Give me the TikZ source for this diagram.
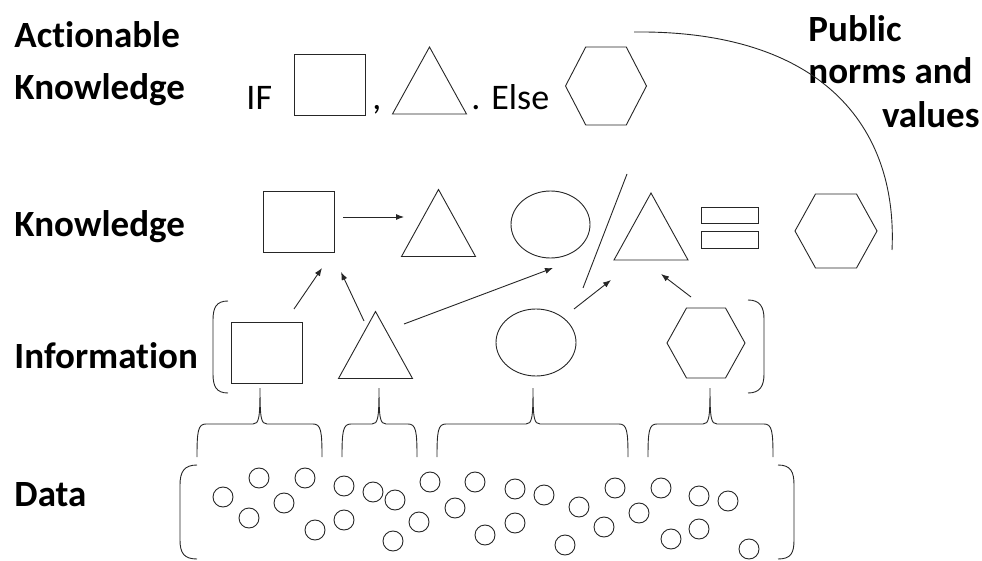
\documentclass[tikz,border=0pt]{standalone}
\usepackage{fontspec}
\setmainfont{Carlito}[Ligatures=NoCommon]
\usetikzlibrary{arrows.meta,shapes.geometric}

% curly brace opening downwards, tip up: left x, tip x, right x
\newcommand{\upbrace}[3]{%
  \draw (#1,457) .. controls (#1,431) and (#1+1,424) .. (#1+9,424) -- (#2-7,424)
        .. controls (#2-1,424) and (#2,418) .. (#2,388)
        .. controls (#2,418) and (#2+1,424) .. (#2+7,424) -- (#3-9,424)
        .. controls (#3-1,424) and (#3,431) .. (#3,457);}

\begin{document}
\begin{tikzpicture}[x=1pt,y=-1pt,line width=0.9pt,color=black!85,>={Latex[length=8pt,width=6pt]}]
\tikzset{
  lvl/.style={font=\fontsize{37}{44}\selectfont\bfseries, anchor=base west, inner sep=0pt, text=black},
  pub/.style={font=\fontsize{37}{44}\selectfont\bfseries, anchor=base west, inner sep=0pt, text=black},
  txt/.style={font=\fontsize{36}{42}\selectfont, anchor=base west, inner sep=0pt, text=black},
  box/.style={draw, rectangle, inner sep=0pt},
  oval/.style={draw, ellipse, inner sep=0pt, minimum width=79pt, minimum height=67pt},
  arr/.style={->, line width=0.9pt},
  pics/tri/.style={code={\draw (-37,33) -- (0,-34) -- (37,33) -- cycle;}},
  pics/hexa/.style args={#1/#2}{code={\draw (-#1,0) -- (-#1/2,-#2) -- (#1/2,-#2) -- (#1,0) -- (#1/2,#2) -- (-#1/2,#2) -- cycle;}}
}
\useasboundingbox (0,0) rectangle (982,561);

% level labels
\node[lvl] (act)  at (14,48)  {Actionable};
\node[lvl] (actk) at (14,100) {Knowledge};
\node[lvl] (know) at (14,237) {Knowledge};
\node[lvl] (info) at (14,368) {Information};
\node[lvl] (data) at (14,506) {Data};

% actionable knowledge
\node[txt] (if) at (246,110) {IF};
\node[box, minimum width=71pt, minimum height=61pt] (ts) at (329.5,84.5) {};
\node[txt] (comma) at (372,110) {,};
\pic (tt) at (429.5,81) {tri};
\node[txt] (else) at (471,110) {. Else};
\pic (th) at (606,86) {hexa=40.5/39};

% public norms and values
\node[pub] (pub1) at (808,42) {Public};
\node[pub] (pub2) at (808,84) {norms and};
\node[pub, anchor=base east] (pub3) at (980,128) {values};
\draw (634,32) .. controls (820,30) and (898,125) .. (892,250);

% knowledge
\node[box, minimum width=71pt, minimum height=61pt] (ks) at (298.5,221.5) {};
\pic (kt) at (438.5,223.5) {tri};
\node[oval] (ko) at (550.5,224.5) {};
\draw (627,174) -- (583,288);
\pic (kt2) at (651,227) {tri};
\node[box, minimum width=57pt, minimum height=16pt] (eq1) at (729.5,215) {};
\node[box, minimum width=57pt, minimum height=17pt] (eq2) at (729.5,239.5) {};
\pic (kh) at (836,231) {hexa=41/37};

% information
\draw (228,301) .. controls (216,301) and (213,308) .. (213,320) -- (213,374) .. controls (213,386) and (216,393) .. (228,393);
\node[box, minimum width=71pt, minimum height=61pt] (is) at (266.5,352.5) {};
\pic (it) at (375.5,345.5) {tri};
\node[oval, minimum width=80pt] (io) at (536,342.5) {};
\pic (ih) at (706,343) {hexa=39/35};
\draw (748,300) .. controls (760,300) and (764,307) .. (764,319) -- (764,374) .. controls (764,386) and (760,393) .. (748,393);

% arrow ends
\coordinate (ks-r)  at (343,217);
\coordinate (kt-l)  at (404,217);
\coordinate (is-t)  at (294,309);
\coordinate (ks-b1) at (322,268);
\coordinate (it-t)  at (364,321);
\coordinate (ks-b2) at (341,272);
\coordinate (it-r)  at (404,324);
\coordinate (ko-b)  at (553,268);
\coordinate (io-t)  at (574,309);
\coordinate (kt2-b) at (611,280);
\coordinate (ih-t)  at (691,297);
\coordinate (kt2-r) at (661,274);

\draw[arr] (ks-r) -- (kt-l);
\draw[arr] (is-t) -- (ks-b1);
\draw[arr] (it-t) -- (ks-b2);
\draw[arr] (it-r) -- (ko-b);
\draw[arr] (io-t) -- (kt2-b);
\draw[arr] (ih-t) -- (kt2-r);

% braces grouping the data
\upbrace{197}{260}{322}
\upbrace{342}{379}{417}
\upbrace{437}{533}{628}
\upbrace{648}{710}{773}

% data
\draw (197,465) .. controls (184,465) and (180,472) .. (180,485) -- (180,540) .. controls (180,553) and (184,559) .. (197,559);
\draw (778,465) .. controls (791,465) and (794,472) .. (794,485) -- (794,540) .. controls (794,553) and (791,559) .. (778,559);
\foreach \x/\y in {223/497, 259/478, 249/518, 284/503, 305/478, 315/530, 344/486, 344/520,
                   373/492, 395/500, 393/541, 419/522, 430/482, 455/508, 475/482, 485/535,
                   515/489, 544/495, 515/523, 579/507, 565/545, 615/488, 604/527, 639/513,
                   661/488, 671/539, 699/496, 699/529, 728/501, 749/549}
  \draw (\x,\y) circle (10pt);
\end{tikzpicture}
\end{document}
